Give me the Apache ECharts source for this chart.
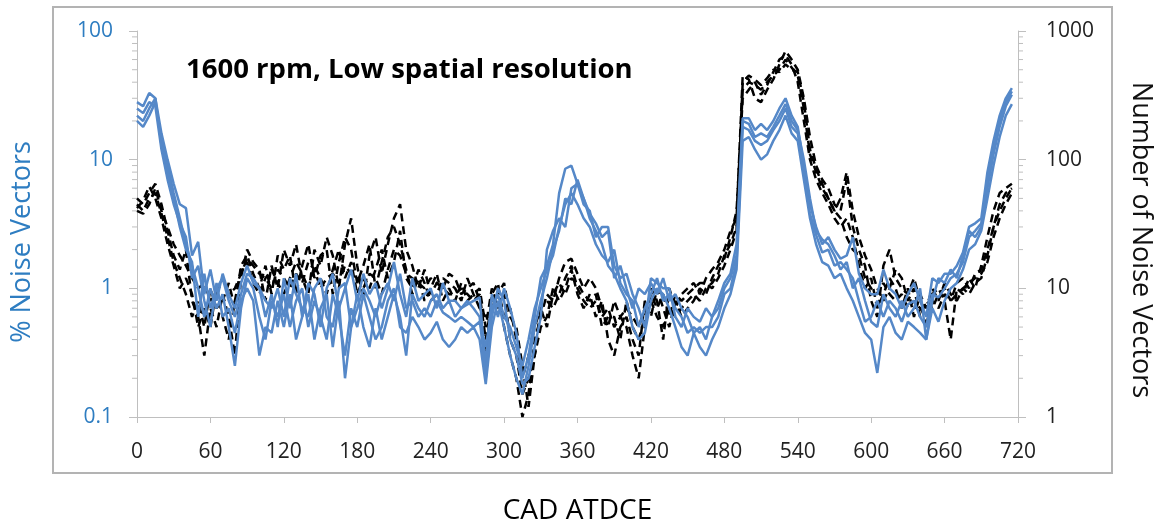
<!DOCTYPE html>
<html><head><meta charset="utf-8">
<script src="https://cdn.jsdelivr.net/npm/echarts@6/dist/echarts.min.js"></script>
<style>html,body{margin:0;padding:0;background:#fff}#c{width:1158px;height:525px}</style>
</head><body><div id="c"></div>
<script>
const cad = [0,5,10,15,20,25,30,35,40,45,50,55,60,65,70,75,80,85,90,95,100,105,110,115,120,125,130,135,140,145,150,155,160,165,170,175,180,185,190,195,200,205,210,215,220,225,230,235,240,245,250,255,260,265,270,275,280,285,290,295,300,305,310,315,320,325,330,335,340,345,350,355,360,365,370,375,380,385,390,395,400,405,410,415,420,425,430,435,440,445,450,455,460,465,470,475,480,485,490,495,500,505,510,515,520,525,530,535,540,545,550,555,560,565,570,575,580,585,590,595,600,605,610,615,620,625,630,635,640,645,650,655,660,665,670,675,680,685,690,695,700,705,710,715];

const blue1 = [28,26,33,30,16,10,6.5,4.5,4.2,1.8,2.3,0.9,1.4,0.8,1.3,0.9,0.7,1.1,1.5,1.1,1.0,0.6,0.9,0.5,1.2,0.7,1.3,0.6,1.1,0.9,0.5,1.0,1.3,0.7,1.0,1.4,0.8,1.3,0.9,1.1,0.7,1.0,1.6,0.9,0.6,1.2,0.8,0.9,1.0,0.7,1.1,0.8,0.8,0.7,0.75,0.8,0.85,0.25,0.9,0.6,1.0,0.7,0.45,0.2,0.3,0.6,1.2,1.5,2.2,5.5,8.5,9,6.5,4.5,4.0,2.5,3.0,3.0,1.5,1.2,1.3,0.9,0.7,0.5,1.2,1.1,1.0,1.0,0.6,0.5,0.7,0.6,0.55,0.7,0.6,0.8,1.1,1.3,2.2,21,21,17,19,17,20,25,30,22,18,9,4.5,3.0,2.2,2.5,2.0,1.7,1.8,2.5,1.3,1.0,0.9,0.9,1.4,1.0,0.9,0.7,0.9,1.1,0.8,0.6,1.2,1.1,1.3,1.3,1.5,1.9,3.0,3.2,3.5,8,14,22,30,36];
const blue2 = [20,18,22,28,14,9,5.5,3.5,2.2,1.5,1.0,0.6,1.0,0.7,0.9,0.5,0.25,0.7,1.2,1.0,0.6,0.4,0.8,0.6,0.9,0.5,0.8,1.0,0.5,0.8,0.6,0.4,0.9,0.6,0.3,0.7,0.5,0.9,0.6,0.4,0.5,0.8,1.0,0.5,0.45,0.6,0.5,0.4,0.45,0.55,0.4,0.35,0.4,0.5,0.45,0.5,0.4,0.18,0.5,0.8,0.5,0.3,0.2,0.15,0.25,0.5,0.8,1.2,2.0,2.8,5,4.5,7,5,3.5,2.8,2.2,1.5,1.3,1.0,0.8,0.5,0.4,0.45,0.8,1.0,0.9,0.7,0.5,0.35,0.3,0.45,0.35,0.3,0.4,0.5,0.7,0.9,1.4,14,15,12,10,11,14,17,22,16,14,7,3.5,2.2,1.6,1.5,1.2,1.3,1.0,0.8,0.6,0.45,0.4,0.22,0.5,0.6,0.45,0.4,0.55,0.5,0.45,0.4,0.7,0.55,0.8,1.0,1.1,1.4,2.0,2.2,2.8,5,9,15,22,27];
const blue3 = [22,20,25,30,13,8,5,3.0,2.0,1.6,0.6,1.3,0.7,1.0,1.2,0.8,0.6,0.9,1.3,1.2,1.0,0.8,0.7,1.0,0.6,1.2,0.9,0.7,0.6,1.0,1.2,0.6,0.5,1.0,1.1,0.5,0.7,1.0,0.8,0.6,0.9,1.1,0.8,1.3,0.7,0.8,0.6,0.7,0.6,0.8,0.65,0.6,0.55,0.6,0.55,0.5,0.55,0.35,0.7,0.9,0.6,0.5,0.35,0.25,0.4,0.7,1.0,1.4,1.8,3.0,4.5,5.5,4.5,3.5,3.0,2.2,1.8,1.6,2.0,1.1,0.9,0.8,0.5,0.7,0.9,1.2,0.8,0.9,0.7,0.6,0.45,0.5,0.45,0.5,0.5,0.6,0.9,1.0,1.6,18,17,14,13,14,17,20,25,18,16,8,3.8,2.6,1.9,2.0,1.5,1.6,1.4,1.2,0.8,0.55,0.6,0.8,0.6,0.8,0.7,0.55,0.75,0.8,0.6,0.5,0.9,0.85,1.0,1.2,1.3,1.6,2.5,2.8,3.2,6,11,18,26,32];
const blue4 = [25,23,28,26,12,7,4.5,3.2,2.5,1.2,1.5,0.8,0.5,1.1,0.6,0.7,0.45,0.8,1.0,0.8,0.3,0.5,0.45,0.8,0.5,0.9,0.4,0.6,0.9,0.4,0.7,0.9,0.35,0.8,0.2,0.5,0.9,0.5,0.35,0.7,0.4,0.6,0.9,0.6,0.3,0.9,0.7,0.6,0.8,0.9,0.7,0.8,0.6,0.7,0.8,0.7,0.6,0.2,0.6,1.0,0.8,0.4,0.3,0.18,0.2,0.35,0.6,2.0,2.8,3.5,3.0,6,6.5,5,3.8,3.2,2.5,2.8,1.2,1.5,1.0,0.7,1.0,0.9,1.1,0.9,1.2,0.8,0.9,0.7,0.6,0.45,0.5,0.4,0.6,0.7,1.0,1.2,1.8,20,19,15,16,15,18,22,27,20,17,10,5,2.8,2.4,2.2,1.8,1.4,1.6,1.0,1.2,0.8,0.55,0.5,0.9,0.7,0.6,0.8,0.6,0.7,1.0,0.4,0.8,1.2,1.1,1.4,1.2,1.8,2.8,2.5,3.0,7,12,20,28,34];

const count1 = [40,38,45,60,40,30,22,18,15,12,10,11,8,9,12,9,10,13,17,15,13,12,10,14,12,10,13,11,16,14,10,12,13,11,15,13,12,10,13,12,9,14,20,18,13,12,11,10,12,11,10,9,9,10,9,8,9,4,8,10,6,7,4,2,3,5,7,8,7,9,12,15,10,8,7,8,6,7,5,6,7,6,5,7,8,6,5,7,6,7,8,9,8,10,11,13,18,22,30,350,400,380,350,400,450,500,600,520,450,250,110,80,60,50,40,35,25,20,18,12,10,9,11,9,8,9,7,8,7,6,8,7,9,8,9,10,11,12,13,16,25,35,45,55];
const count2 = [50,45,55,65,45,28,18,14,20,8,6,3,7,5,9,6,3,12,20,16,14,8,15,10,20,15,22,12,9,20,15,25,18,10,22,35,15,8,18,25,13,22,35,45,20,15,10,14,9,11,10,13,12,9,10,11,8,3,9,11,5,3,2,1,1.5,4,6,9,8,12,16,17,13,10,12,10,7,5,8,6,5,3,2,5,10,8,4,10,7,9,10,11,9,12,14,16,20,28,35,450,420,300,280,350,420,550,700,600,500,300,150,90,70,60,45,40,70,30,20,15,8,6,15,20,12,10,9,12,8,5,9,10,8,4,10,9,12,10,15,25,40,55,60,65];
const count3 = [45,40,50,55,38,25,16,12,9,6,8,5,10,7,8,11,7,15,18,13,10,15,9,18,14,18,9,15,22,12,18,20,9,16,25,20,11,15,22,10,16,25,30,22,14,9,12,8,10,13,8,10,8,11,8,9,10,5,10,7,9,4,3,1.5,2,3,5,6,10,8,10,14,9,7,9,6,8,4,3,5,6,4,3,8,6,10,7,5,8,6,7,8,10,9,12,15,17,25,40,300,350,400,320,380,480,600,650,550,400,200,100,70,55,45,35,30,35,25,15,10,12,7,9,12,10,7,10,6,9,7,10,8,11,9,8,10,9,11,12,18,30,40,50,60];
const count4 = [42,48,62,50,35,22,15,10,12,9,5,7,5,10,6,4,8,14,16,11,9,12,14,11,9,12,16,13,10,15,12,9,14,20,12,16,9,12,10,14,20,12,16,28,12,10,14,11,8,9,12,11,10,8,12,9,7,6,7,9,11,6,5,2.5,1.2,3,7,5,9,11,9,12,11,9,8,9,5,6,6,4,8,5,4,6,9,7,9,6,9,8,9,10,11,11,10,12,15,20,28,400,450,420,380,430,500,480,550,500,480,280,120,85,65,50,40,50,80,40,25,18,14,10,8,10,14,12,8,10,6,8,7,9,10,8,11,12,10,13,14,20,30,45,55,60];

const leftTicks = [0.1, 1, 10, 100];
const rightTicks = [1, 10, 100, 1000];
const leftMinor = [0.2,0.3,0.4,0.5,0.6,0.7,0.8,0.9,2,3,4,5,6,7,8,9,20,30,40,50,60,70,80,90];
const rightMinor = [2,3,4,5,6,7,8,9,20,30,40,50,60,70,80,90,200,300,400,500,600,700,800,900];

const title = '1600 rpm, Low spatial resolution';
const xName = 'CAD ATDCE';
const yLeftName = '% Noise Vectors';
const yRightName = 'Number of Noise Vectors';

const BLUE = '#5588c8';
const LABEL_BLUE = '#2e7dc1';
const AXIS = '#bfbfbf';
const FONT = "'Open Sans', 'Noto Sans', sans-serif";

function pairs(arr){ return arr.map((v,i)=>[cad[i], v]); }
function pick(list, v){ return list.find(t=>Math.abs(t-v)/t<1e-6); }

const blueSeries = [blue1, blue2, blue3, blue4].map((d,i)=>({
  type:'line', name:'pct'+(i+1), yAxisIndex:0, data:pairs(d), showSymbol:false,
  lineStyle:{color:BLUE, width:2.5}, z:3
}));
const blackSeries = [count1, count2, count4, count3].map((d,i)=>({
  type:'line', name:'count'+(i+1), yAxisIndex:1, data:pairs(d), showSymbol:false,
  lineStyle:{color:'#000', width:2.5, type:[8,5]}, z:2
}));

function minorSeries(values, axisIdx, xv, dir){
  return {
    type:'custom', yAxisIndex:axisIdx, silent:true, clip:false, z:1,
    data: values.map(v=>[xv, v]),
    renderItem: function(params, api){
      const p = api.coord([api.value(0), api.value(1)]);
      return {type:'line', shape:{x1:p[0], y1:p[1], x2:p[0]+dir*5, y2:p[1]},
        style:{stroke:AXIS, lineWidth:1}};
    }
  };
}

const chart = echarts.init(document.getElementById('c'), null, {renderer:'canvas'});
chart.setOption({
  animation:false,
  backgroundColor:'#fff',
  graphic:[
    {type:'rect', shape:{x:53, y:7, width:1059, height:466}, style:{fill:null, stroke:'#b3b3b3', lineWidth:2}, z:-1},
    {type:'text', left:186, top:56, style:{text:title, font:"bold 27.5px "+FONT, fill:'#000'}},
    {type:'text', x:22, y:242, rotation:Math.PI/2, style:{text:yLeftName, font:"27px "+FONT, fill:LABEL_BLUE, align:'center', verticalAlign:'middle'}},
    {type:'text', x:1141, y:240, rotation:-Math.PI/2, style:{text:yRightName, font:"27px "+FONT, fill:'#111', align:'center', verticalAlign:'middle'}}
  ],
  grid:{left:137, right:140, top:31, bottom:108, outerBoundsMode:'none', containLabel:false},
  xAxis:{
    type:'value', min:0, max:720, interval:60,
    name:xName, nameLocation:'middle', nameGap:80,
    nameTextStyle:{fontSize:28, color:'#000', fontFamily:FONT},
    axisLine:{show:true, lineStyle:{color:AXIS, width:1}},
    axisTick:{show:true, length:6, lineStyle:{color:AXIS}},
    axisLabel:{fontSize:21, color:'#222', margin:25, fontFamily:FONT},
    splitLine:{show:false}
  },
  yAxis:[
    {type:'log', logBase:10, min:0.1, max:100, position:'left',
     axisLine:{show:true, lineStyle:{color:AXIS}},
     axisTick:{show:true, length:8, lineStyle:{color:AXIS}},
     axisLabel:{fontSize:21, color:LABEL_BLUE, margin:24, fontFamily:FONT,
       formatter:function(v){ const t = pick(leftTicks, v); return t!==undefined ? String(t) : ''; }},
     splitLine:{show:false}},
    {type:'log', logBase:10, min:1, max:1000, position:'right',
     axisLine:{show:true, lineStyle:{color:AXIS}},
     axisTick:{show:true, length:8, lineStyle:{color:AXIS}},
     axisLabel:{fontSize:21, color:'#222', margin:28, fontFamily:FONT,
       formatter:function(v){ const t = pick(rightTicks, v); return t!==undefined ? String(t) : ''; }},
     splitLine:{show:false}}
  ],
  series:[
    minorSeries(leftMinor, 0, 0, -1),
    minorSeries(rightMinor, 1, 720, 1),
    ...blackSeries, ...blueSeries
  ]
});
</script></body></html>
